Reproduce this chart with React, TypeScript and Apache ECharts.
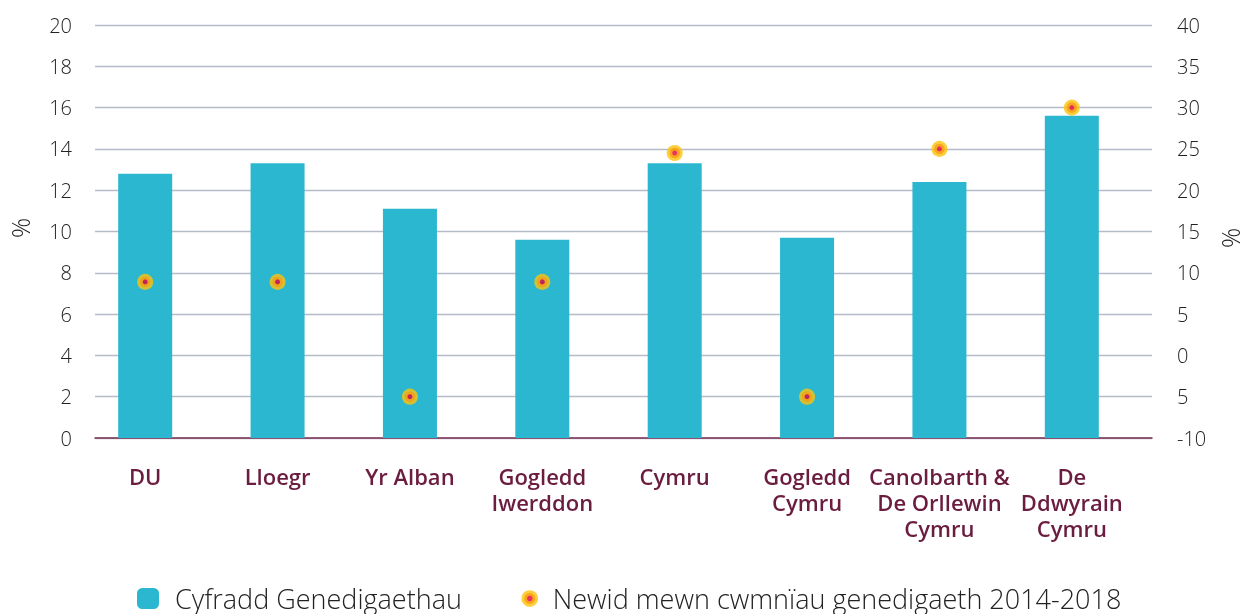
import React, { useEffect, useRef } from "react";
import * as echarts from "echarts";

const categories = [
  "DU",
  "Lloegr",
  "Yr Alban",
  "Gogledd\nIwerddon",
  "Cymru",
  "Gogledd\nCymru",
  "Canolbarth &\nDe Orllewin\nCymru",
  "De\nDdwyrain\nCymru",
];
const birthRate = [12.8, 13.3, 11.1, 9.6, 13.3, 9.7, 12.4, 15.6];
const changeInBirths = [8.9, 8.9, -5, 8.9, 24.5, -5, 25, 30];
const rightTickLabels = ["-10", "5", "0", "5", "10", "15", "20", "25", "30", "35", "40"];
const seriesNames = ["Cyfradd Genedigaethau", "Newid mewn cwmnïau genedigaeth 2014-2018"];

const FONT = "'Open Sans', Lato, sans-serif";
const MAROON = "#6b1d3f";

export default function App() {
  const ref = useRef<HTMLDivElement>(null);
  useEffect(() => {
    if (!ref.current) return;
    const chart = echarts.init(ref.current, null, { renderer: "svg" });
    chart.setOption({
      animation: false,
      textStyle: { fontFamily: FONT },
      grid: [
        { left: 79, width: 1059, top: 25, height: 413, outerBoundsMode: "none", containLabel: false },
        { left: 95, width: 1057, top: 25, height: 413, outerBoundsMode: "none", containLabel: false },
      ],
      legend: [
        {
          left: 137,
          top: 585,
          padding: 0,
          itemWidth: 22,
          itemHeight: 21,
          data: [seriesNames[0]],
          textStyle: { fontSize: 27, fontWeight: 300, color: "#222", fontFamily: FONT, padding: [0, 0, 0, 11] },
        },
        {
          left: 521.5,
          top: 585,
          padding: 0,
          itemWidth: 11,
          itemHeight: 11,
          data: [seriesNames[1]],
          itemStyle: { borderWidth: 5.5 },
          textStyle: { fontSize: 27, fontWeight: 300, color: "#222", fontFamily: FONT, padding: [0, 0, 0, 12.5] },
        },
      ],
      xAxis: [
        {
          type: "category",
          gridIndex: 0,
          data: categories,
          axisLine: { show: false },
          axisTick: { show: false },
          splitLine: { show: false },
          axisLabel: {
            interval: 0,
            margin: 25,
            fontSize: 22,
            fontWeight: 600,
            lineHeight: 26,
            color: MAROON,
            fontFamily: FONT,
            verticalAlign: "top",
          },
        },
        {
          type: "category",
          gridIndex: 1,
          data: categories,
          axisLine: { show: true, lineStyle: { color: "#7b2d4f", width: 1.5 } },
          axisTick: { show: false },
          axisLabel: { show: false },
          splitLine: { show: false },
        },
      ],
      yAxis: [
        {
          type: "value",
          gridIndex: 1,
          position: "left",
          min: 0,
          max: 20,
          interval: 2,
          name: "%",
          nameLocation: "middle",
          nameRotate: 90,
          nameGap: 63,
          nameTextStyle: { fontSize: 25, fontWeight: 300, color: "#222", fontFamily: FONT, padding: [0, 0, 0, 7] },
          axisLine: { show: false },
          axisTick: { show: false },
          axisLabel: { fontSize: 20, fontWeight: 300, color: "#222", margin: 23, fontFamily: FONT },
          splitLine: { show: true, lineStyle: { color: "#b6bcc7", width: 1.3 } },
        },
        {
          type: "value",
          gridIndex: 1,
          position: "right",
          min: -10,
          max: 40,
          interval: 5,
          name: "%",
          nameLocation: "middle",
          nameRotate: 90,
          nameGap: 62,
          nameTextStyle: { fontSize: 25, fontWeight: 300, color: "#222", fontFamily: FONT, padding: [0, 13, 0, 0] },
          axisLine: { show: false },
          axisTick: { show: false },
          splitLine: { show: false },
          axisLabel: {
            fontSize: 20,
            fontWeight: 300,
            color: "#222",
            margin: 25,
            fontFamily: FONT,
            formatter: (v: number) => rightTickLabels[Math.round((v + 10) / 5)],
          },
        },
        {
          type: "value",
          gridIndex: 0,
          min: 0,
          max: 20,
          show: false,
          splitLine: { show: false },
        },
        {
          type: "value",
          gridIndex: 0,
          min: -10,
          max: 40,
          show: false,
          splitLine: { show: false },
        },
      ],
      series: [
        {
          name: seriesNames[0],
          type: "bar",
          xAxisIndex: 0,
          yAxisIndex: 2,
          data: birthRate,
          barWidth: 54,
          itemStyle: { color: "#2bb7cf" },
          z: 2,
        },
        {
          name: seriesNames[1],
          type: "scatter",
          xAxisIndex: 0,
          yAxisIndex: 3,
          data: changeInBirths,
          symbol: "circle",
          symbolSize: 10.5,
          itemStyle: { color: "#e5003c", borderColor: "#fcc30c", borderWidth: 5.5 },
          z: 3,
        },
      ],
    });
    return () => chart.dispose();
  }, []);
  return (
    <div
      ref={ref}
      style={{ position: "fixed", left: 0, top: 0, width: 1243, height: 614 }}
    />
  );
}
